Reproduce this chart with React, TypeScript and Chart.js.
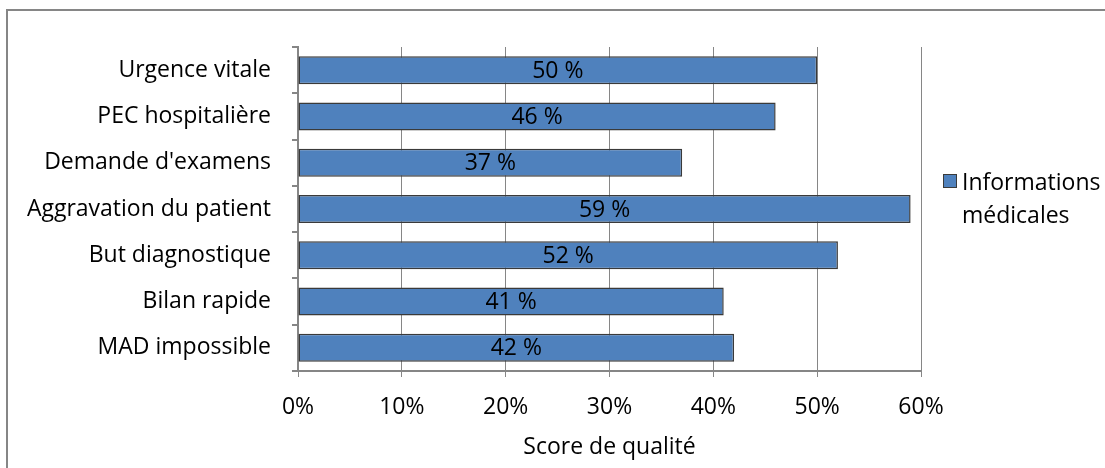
import React, { useEffect, useRef } from "react";
import { Chart, registerables } from "chart.js";

Chart.register(...registerables);

// Score categories, top to bottom
const categories = [
  "Urgence vitale",
  "PEC hospitalière",
  "Demande d'examens",
  "Aggravation du patient",
  "But diagnostique",
  "Bilan rapide",
  "MAD impossible",
];

// Percentage scores of the single series
const seriesName = "Informations médicales";
const seriesValues = [50, 46, 37, 59, 52, 41, 42];

// Axis range and legend wrapping
const axisMin = 0;
const axisMax = 60;
const axisStep = 10;
const axisTitle = "Score de qualité";
const legendLines = ["Informations", "médicales"];

const FONT = "'Open Sans'";
const LABEL_SIZE = 23;
const TEXT_SIZE = 23;
const BAR_FILL = "#4F81BD";
const BAR_EDGE = "#3A3A3A";
const AXIS_GRAY = "#868686";

// Writes each bar's value ("50 %") in the middle of the bar
const valueLabels = {
  id: "valueLabels",
  afterDatasetsDraw(chart: any) {
    const { ctx } = chart;
    const meta = chart.getDatasetMeta(0);
    const data = chart.data.datasets[0].data as number[];
    ctx.save();
    ctx.font = `${TEXT_SIZE}px ${FONT}`;
    ctx.fillStyle = "#000";
    ctx.textAlign = "center";
    ctx.textBaseline = "middle";
    meta.data.forEach((bar: any, i: number) => {
      const cx = (bar.x + bar.base) / 2;
      ctx.fillText(`${data[i]} %`, cx, bar.y + 1);
    });
    ctx.restore();
  },
};

// Right-hand legend with the series name wrapped on two lines
const sideLegend = {
  id: "sideLegend",
  afterDraw(chart: any) {
    const { ctx, chartArea } = chart;
    const ds = chart.data.datasets[0];
    const boxX = chartArea.right + 22;
    const boxY = 174;
    ctx.save();
    ctx.fillStyle = ds.backgroundColor;
    ctx.fillRect(boxX, boxY, 14, 14);
    ctx.strokeStyle = BAR_EDGE;
    ctx.lineWidth = 1;
    ctx.strokeRect(boxX + 0.5, boxY + 0.5, 13, 13);
    ctx.font = `${TEXT_SIZE}px ${FONT}`;
    ctx.fillStyle = "#000";
    ctx.textAlign = "left";
    ctx.textBaseline = "alphabetic";
    legendLines.forEach((line, i) => {
      ctx.fillText(line, boxX + 19, 190 + i * 33);
    });
    ctx.restore();
  },
};

export default function App() {
  const canvasRef = useRef<HTMLCanvasElement | null>(null);

  useEffect(() => {
    if (!canvasRef.current) return;
    const chart = new Chart(canvasRef.current, {
      type: "bar",
      data: {
        labels: categories,
        datasets: [
          {
            label: seriesName,
            data: seriesValues,
            backgroundColor: BAR_FILL,
            borderColor: BAR_EDGE,
            borderWidth: 1.5,
            borderSkipped: false,
            categoryPercentage: 1,
            barPercentage: 0.605,
          },
        ],
      },
      options: {
        indexAxis: "y",
        responsive: false,
        animation: false,
        layout: { padding: { top: 47, right: 184, left: 0, bottom: 0 } },
        plugins: {
          legend: { display: false },
          tooltip: { enabled: false },
        },
        scales: {
          x: {
            type: "linear",
            min: axisMin,
            max: axisMax,
            afterFit: (s: any) => {
              s.height = 97;
            },
            ticks: {
              stepSize: axisStep,
              callback: (v: any) => `${v}%`,
              color: "#000",
              font: { family: FONT, size: TEXT_SIZE },
              padding: 17,
            },
            grid: {
              color: AXIS_GRAY,
              lineWidth: 1,
              tickLength: 6,
              drawTicks: true,
            },
            border: { color: AXIS_GRAY, width: 2 },
            title: {
              display: true,
              text: axisTitle,
              color: "#000",
              font: { family: FONT, size: TEXT_SIZE },
              padding: { top: 0, bottom: 7 },
            },
          },
          y: {
            type: "category",
            afterFit: (s: any) => {
              s.width = 298;
            },
            ticks: {
              color: "#000",
              font: { family: FONT, size: LABEL_SIZE },
              padding: 21,
            },
            grid: {
              offset: true,
              drawOnChartArea: false,
              color: AXIS_GRAY,
              lineWidth: 2,
              tickLength: 6,
            },
            border: { color: AXIS_GRAY, width: 2 },
          },
        },
      },
      plugins: [valueLabels, sideLegend],
    });
    return () => chart.destroy();
  }, []);

  return (
    <div
      style={{
        position: "fixed",
        left: 0,
        top: 0,
        width: 1105,
        height: 468,
        overflow: "hidden",
        background: "#fff",
      }}
    >
      <div
        style={{
          position: "absolute",
          left: 6,
          top: 9,
          width: 1200,
          height: 600,
          borderLeft: `2px solid ${AXIS_GRAY}`,
          borderTop: `2px solid ${AXIS_GRAY}`,
        }}
      />
      <canvas
        ref={canvasRef}
        width={1105}
        height={468}
        style={{ position: "absolute", left: 0, top: 0 }}
      />
    </div>
  );
}
